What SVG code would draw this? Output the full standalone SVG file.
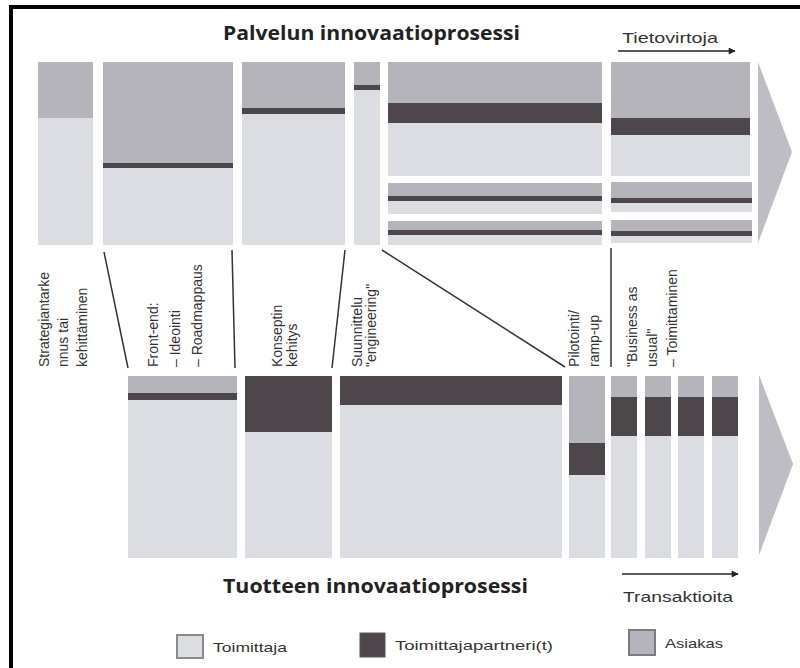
<svg xmlns="http://www.w3.org/2000/svg" width="800" height="668" viewBox="0 0 800 668">
  <style>
    .lt { fill: #dcdde2; }
    .md { fill: #b4b4ba; }
    .dk { fill: #4d464b; }
    .title { font-family: "Open Sans", "Liberation Sans", sans-serif; font-weight: bold; font-size: 20px; fill: #222; }
    .lbl { font-family: "Liberation Sans", Arial, sans-serif; font-size: 14px; fill: #333; }
    .flow { font-family: "Liberation Sans", Arial, sans-serif; font-size: 15px; fill: #333; }
    .leg { font-family: "Liberation Sans", Arial, sans-serif; font-size: 13px; fill: #333; }
    .sep { stroke: #333; stroke-width: 1.5; fill: none; }
    .bigarrow { fill: #bdbdc3; }
  </style>
  <defs>
    <marker id="head" viewBox="0 0 10 10" refX="9" refY="5" markerWidth="9" markerHeight="7" markerUnits="userSpaceOnUse" orient="auto">
      <path d="M0,0 L10,5 L0,10 z" fill="#222"/>
    </marker>
  </defs>

  <rect width="800" height="668" fill="#fff"/>
  <!-- frame -->
  <rect x="9" y="5" width="791" height="4" fill="#000"/>
  <rect x="9" y="5" width="4" height="663" fill="#000"/>

  <!-- titles -->
  <text class="title" x="223" y="40" textLength="297" lengthAdjust="spacingAndGlyphs">Palvelun innovaatioprosessi</text>
  <text class="title" x="223" y="593" textLength="305" lengthAdjust="spacingAndGlyphs">Tuotteen innovaatioprosessi</text>

  <!-- flow captions -->
  <g id="info-flow">
    <text class="flow" x="622" y="43" textLength="96" lengthAdjust="spacingAndGlyphs">Tietovirtoja</text>
    <line x1="618" y1="51" x2="735" y2="51" stroke="#222" stroke-width="1.5" marker-end="url(#head)"/>
  </g>
  <g id="transactions">
    <line x1="622" y1="574" x2="738" y2="574" stroke="#222" stroke-width="1.5" marker-end="url(#head)"/>
    <text class="flow" x="623" y="602" textLength="110" lengthAdjust="spacingAndGlyphs">Transaktioita</text>
  </g>

  <!-- service process stages -->
  <g id="svc-strategy">
    <rect class="md" x="38" y="62" width="55" height="56"/>
    <rect class="lt" x="38" y="118" width="55" height="127"/>
  </g>
  <g id="svc-frontend">
    <rect class="md" x="103" y="62" width="130" height="101"/>
    <rect class="dk" x="103" y="163" width="130" height="5"/>
    <rect class="lt" x="103" y="168" width="130" height="77"/>
  </g>
  <g id="svc-concept">
    <rect class="md" x="242" y="62" width="103" height="46"/>
    <rect class="dk" x="242" y="108" width="103" height="6"/>
    <rect class="lt" x="242" y="114" width="103" height="131"/>
  </g>
  <g id="svc-design">
    <rect class="md" x="354" y="62" width="26" height="23"/>
    <rect class="dk" x="354" y="85" width="26" height="5"/>
    <rect class="lt" x="354" y="90" width="26" height="155"/>
  </g>
  <g id="svc-pilot">
    <rect class="md" x="388" y="62" width="214" height="41"/>
    <rect class="dk" x="388" y="103" width="214" height="20"/>
    <rect class="lt" x="388" y="123" width="214" height="53"/>
    <rect class="md" x="388" y="183" width="214" height="13"/>
    <rect class="dk" x="388" y="196" width="214" height="5"/>
    <rect class="lt" x="388" y="201" width="214" height="13"/>
    <rect class="md" x="388" y="221" width="214" height="9"/>
    <rect class="dk" x="388" y="230" width="214" height="5"/>
    <rect class="lt" x="388" y="235" width="214" height="10"/>
  </g>
  <g id="svc-bau">
    <rect class="md" x="611" y="62" width="139" height="56"/>
    <rect class="dk" x="611" y="118" width="139" height="17"/>
    <rect class="lt" x="611" y="135" width="139" height="41"/>
    <rect class="md" x="611" y="182" width="141" height="16"/>
    <rect class="dk" x="611" y="198" width="141" height="5"/>
    <rect class="lt" x="611" y="203" width="141" height="9"/>
    <rect class="md" x="611" y="220" width="141" height="11"/>
    <rect class="dk" x="611" y="231" width="141" height="5"/>
    <rect class="lt" x="611" y="236" width="141" height="7"/>
  </g>
  <polygon id="svc-arrow" class="bigarrow" points="758,62 792,152 758,243"/>

  <!-- product process stages -->
  <g id="prod-frontend">
    <rect class="md" x="128" y="376" width="109" height="17"/>
    <rect class="dk" x="128" y="393" width="109" height="7"/>
    <rect class="lt" x="128" y="400" width="109" height="158"/>
  </g>
  <g id="prod-concept">
    <rect class="dk" x="245" y="376" width="87" height="56"/>
    <rect class="lt" x="245" y="432" width="87" height="126"/>
  </g>
  <g id="prod-design">
    <rect class="dk" x="340" y="376" width="222" height="29"/>
    <rect class="lt" x="340" y="405" width="222" height="153"/>
  </g>
  <g id="prod-pilot">
    <rect class="md" x="569" y="376" width="36" height="67"/>
    <rect class="dk" x="569" y="443" width="36" height="32"/>
    <rect class="lt" x="569" y="475" width="36" height="83"/>
  </g>
  <g id="prod-bau">
    <rect class="md" x="611" y="376" width="26" height="21"/>
    <rect class="dk" x="611" y="397" width="26" height="39"/>
    <rect class="lt" x="611" y="436" width="26" height="122"/>
    <rect class="md" x="645" y="376" width="26" height="21"/>
    <rect class="dk" x="645" y="397" width="26" height="39"/>
    <rect class="lt" x="645" y="436" width="26" height="122"/>
    <rect class="md" x="678" y="376" width="26" height="21"/>
    <rect class="dk" x="678" y="397" width="26" height="39"/>
    <rect class="lt" x="678" y="436" width="26" height="122"/>
    <rect class="md" x="712" y="376" width="26" height="21"/>
    <rect class="dk" x="712" y="397" width="26" height="39"/>
    <rect class="lt" x="712" y="436" width="26" height="122"/>
  </g>
  <polygon id="prod-arrow" class="bigarrow" points="759,375 793,464 759,555"/>

  <!-- stage separators between the two processes -->
  <g id="connectors">
    <line class="sep" x1="104" y1="252" x2="128" y2="368"/>
    <line class="sep" x1="232" y1="250" x2="235" y2="368"/>
    <line class="sep" x1="345" y1="250" x2="332" y2="368"/>
    <line class="sep" x1="382" y1="250" x2="565" y2="367"/>
    <line class="sep" x1="611" y1="248" x2="611" y2="367"/>
  </g>

  <!-- stage names, set vertically -->
  <g id="label-strategy" transform="translate(49,367) rotate(-90)">
    <text class="lbl"><tspan x="0" y="0">Strategiantarke</tspan><tspan x="0" y="19">nnus tai</tspan><tspan x="0" y="38">kehittäminen</tspan></text>
  </g>
  <g id="label-frontend" transform="translate(158,367) rotate(-90)">
    <text class="lbl"><tspan x="0" y="0">Front-end:</tspan><tspan x="0" y="22">– Ideointi</tspan><tspan x="0" y="44">– Roadmappaus</tspan></text>
  </g>
  <g id="label-concept" transform="translate(282,367) rotate(-90)">
    <text class="lbl"><tspan x="0" y="0">Konseptin</tspan><tspan x="0" y="15">kehitys</tspan></text>
  </g>
  <g id="label-design" transform="translate(362,367) rotate(-90)">
    <text class="lbl"><tspan x="0" y="0">Suunnittelu</tspan><tspan x="0" y="14">"engineering"</tspan></text>
  </g>
  <g id="label-pilot" transform="translate(579,367) rotate(-90)">
    <text class="lbl"><tspan x="0" y="0">Pilotointi/</tspan><tspan x="0" y="20">ramp-up</tspan></text>
  </g>
  <g id="label-bau" transform="translate(637,367) rotate(-90)">
    <text class="lbl"><tspan x="0" y="0">"Business as</tspan><tspan x="0" y="20">usual"</tspan><tspan x="0" y="40">– Toimittaminen</tspan></text>
  </g>

  <!-- legend -->
  <g id="legend">
    <rect x="177" y="635" width="26" height="23" fill="#dcdde2" stroke="#8a8a8e" stroke-width="2"/>
    <text class="leg" x="213" y="652" textLength="74" lengthAdjust="spacingAndGlyphs">Toimittaja</text>
    <rect x="360" y="633" width="25" height="24" fill="#4d464b" stroke="#5a5458" stroke-width="1"/>
    <text class="leg" x="395" y="650" textLength="158" lengthAdjust="spacingAndGlyphs">Toimittajapartneri(t)</text>
    <rect x="629" y="630" width="26" height="25" fill="#b4b4ba" stroke="#7a7a80" stroke-width="2"/>
    <text class="leg" x="665" y="648" textLength="58" lengthAdjust="spacingAndGlyphs">Asiakas</text>
  </g>
</svg>
